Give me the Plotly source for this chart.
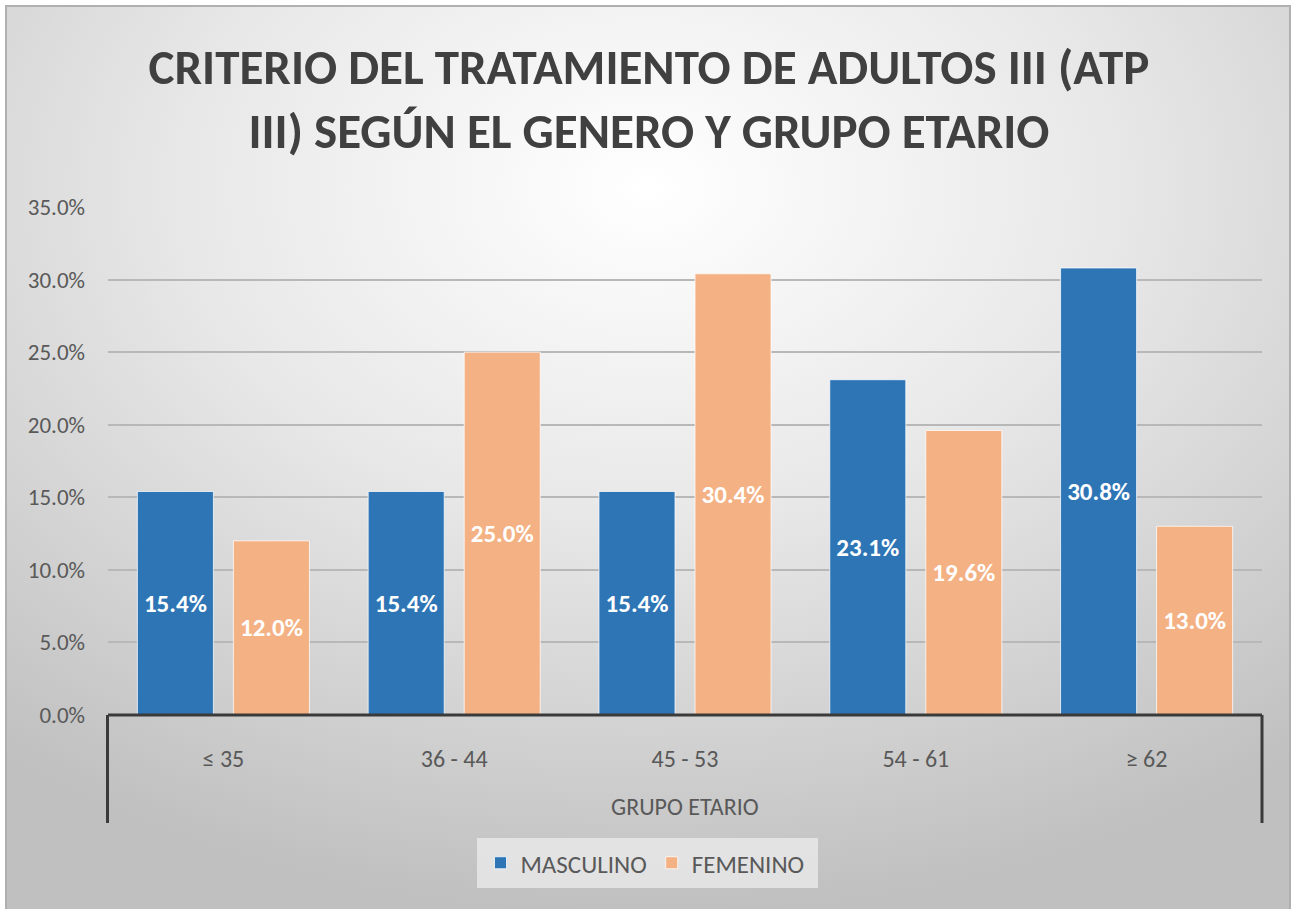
import plotly.graph_objects as go
from urllib.parse import quote

categories = ["≤ 35", "36 - 44", "45 - 53", "54 - 61", "≥ 62"]
masculino = [15.4, 15.4, 15.4, 23.1, 30.8]
femenino = [12.0, 25.0, 30.4, 19.6, 13.0]
series_names = ["MASCULINO", "FEMENINO"]
y_ticks = [0, 5, 10, 15, 20, 25, 30, 35]
y_tick_labels = ["0.0%", "5.0%", "10.0%", "15.0%", "20.0%", "25.0%", "30.0%", "35.0%"]
title_text = "CRITERIO DEL TRATAMIENTO DE ADULTOS III (ATP<br>III) SEGÚN EL GENERO Y GRUPO ETARIO"
axis_title = "GRUPO ETARIO"

W, H = 1298, 909
ML, MR, MT, MB = 108, 36, 207, 194
PW, PH = W - ML - MR, H - MT - MB

FONT = "Carlito, Calibri, Lato, sans-serif"
BLUE = "#2E75B6"
ORANGE = "#F4B183"

fig = go.Figure()
for name, vals, col in [(series_names[0], masculino, BLUE), (series_names[1], femenino, ORANGE)]:
    fig.add_trace(go.Bar(
        x=categories, y=vals, name=name,
        marker=dict(color=col, line=dict(color="rgba(255,255,255,0.75)", width=1)),
        texttemplate="%{y:.1f}%", textposition="inside", insidetextanchor="middle",
        textangle=0, constraintext="none",
        textfont=dict(family=FONT, size=25, color="white", weight="bold"),
    ))

# background gradient frame
fx0, fy0, fx1, fy1 = 6, 6, 1290, 912
svg = ("<svg xmlns='http://www.w3.org/2000/svg' width='%d' height='%d' preserveAspectRatio='none'>"
       "<defs><radialGradient id='g' cx='50%%' cy='20%%' r='80%%'>"
       "<stop offset='0' stop-color='#ffffff'/><stop offset='0.45' stop-color='#e8e8e8'/>"
       "<stop offset='1' stop-color='#c0c0c0'/></radialGradient></defs>"
       "<rect width='100%%' height='100%%' fill='url(#g)'/></svg>") % (fx1 - fx0, fy1 - fy0)
src = "data:image/svg+xml;charset=utf-8," + quote(svg)
fig.add_layout_image(dict(
    source=src, xref="paper", yref="paper",
    x=(fx0 - ML) / PW, y=(H - MB - fy0) / PH,
    sizex=(fx1 - fx0) / PW, sizey=(fy1 - fy0) / PH,
    xanchor="left", yanchor="top", sizing="stretch", layer="below",
))

def px_x(px):
    return (px - ML) / PW

def px_y(py):
    return (H - MB - py) / PH

shapes = [
    dict(type="rect", xref="paper", yref="paper", x0=px_x(fx0), x1=px_x(fx1), y0=px_y(fy1), y1=px_y(fy0),
         line=dict(color="#b0b0b0", width=2), layer="below"),
    dict(type="rect", xref="paper", yref="paper", x0=px_x(477), x1=px_x(818), y0=px_y(888), y1=px_y(838),
         line=dict(width=0), fillcolor="rgba(240,240,240,0.7)", layer="below"),
    dict(type="line", xref="paper", yref="paper", x0=0, x1=1, y0=0, y1=0,
         line=dict(color="#3a3a3a", width=3)),
    dict(type="line", xref="paper", yref="paper", x0=px_x(107.5), x1=px_x(107.5), y0=0, y1=px_y(823),
         line=dict(color="#3a3a3a", width=3)),
    dict(type="line", xref="paper", yref="paper", x0=px_x(1262), x1=px_x(1262), y0=0, y1=px_y(823),
         line=dict(color="#3a3a3a", width=3)),
]

fig.update_layout(
    width=W, height=H,
    margin=dict(l=ML, r=MR, t=MT, b=MB, pad=0),
    paper_bgcolor="white", plot_bgcolor="rgba(0,0,0,0)",
    font=dict(family=FONT, color="#595959"),
    title=dict(text=title_text, x=0.5, xref="container", xanchor="center",
               y=1 - 84 / H, yref="container", yanchor="top",
               font=dict(family=FONT, size=49, color="#404040", weight="bold")),
    barmode="group", bargap=0.168, bargroupgap=0.208,
    showlegend=True,
    legend=dict(orientation="h", xref="paper", yref="paper", x=px_x(645), y=px_y(863),
                xanchor="center", yanchor="middle",
                bgcolor="rgba(0,0,0,0)", font=dict(family=FONT, size=25, color="#595959"),
                itemwidth=30, borderwidth=0),
    shapes=shapes,
    annotations=[dict(text=axis_title, xref="paper", yref="paper", x=0.5, y=px_y(806),
                      xanchor="center", yanchor="middle", showarrow=False,
                      font=dict(family=FONT, size=24, color="#595959"))],
)
fig.update_xaxes(showgrid=False, showline=False, ticks="", ticklabelstandoff=27,
                 tickfont=dict(family=FONT, size=24, color="#595959"))
fig.update_yaxes(range=[0, 35], tickmode="array", tickvals=y_ticks, ticktext=y_tick_labels,
                 showgrid=True, gridcolor="#b8b8b8", gridwidth=1.5, zeroline=False,
                 showline=False, ticks="", ticklabelstandoff=22,
                 tickfont=dict(family=FONT, size=23, color="#595959"))

fig.write_html("out.html", config={"displayModeBar": False},
               post_script="document.body.style.margin='0';")
